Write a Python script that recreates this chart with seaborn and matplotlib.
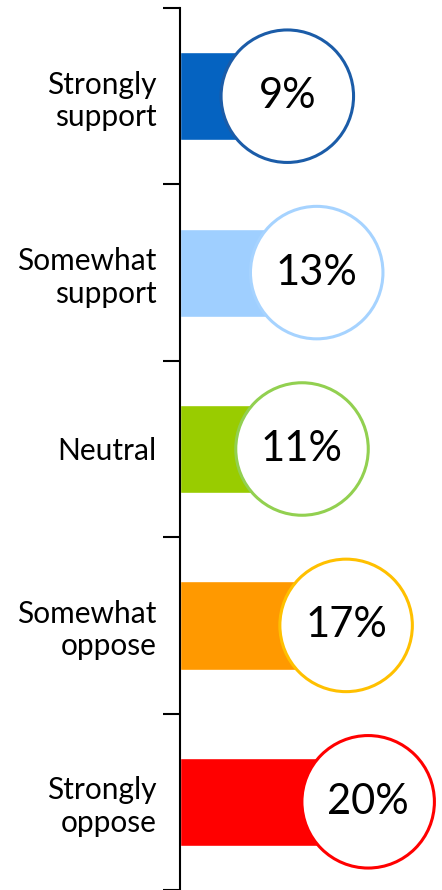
import numpy as np
import pandas as pd
import matplotlib.pyplot as plt
import seaborn as sns

categories = ["Strongly\nsupport", "Somewhat\nsupport", "Neutral", "Somewhat\noppose", "Strongly\noppose"]
values = [9, 13, 11, 17, 20]
bar_colors = ["#0563C1", "#9FCFFF", "#99CC00", "#FF9900", "#FF0000"]
ring_colors = ["#1B5CA8", "#A6D3FF", "#92D050", "#FFC000", "#FF0000"]

df = pd.DataFrame({"category": categories, "value": values})

sns.set_style("white")
plt.rcParams["font.family"] = ["Lato", "DejaVu Sans"]

fig = plt.figure(figsize=(4.42, 8.9), dpi=100)
ax = fig.add_axes([180 / 442, 0, 262 / 442, 882 / 890])

sns.barplot(
    data=df, x="value", y="category", hue="category",
    palette=bar_colors, legend=False, width=0.5, orient="h",
    saturation=1, ax=ax
)

# circles sit a bit past the end of each bar
offset = 5.6
ypos = np.arange(len(categories))
ax.scatter(
    np.array(values) + offset, ypos, s=9100, facecolor="white",
    edgecolor=ring_colors, linewidth=2.2, zorder=5, clip_on=False
)
for y, v in zip(ypos, values):
    ax.text(v + offset, y, f"{v}%", ha="center", va="center",
            fontsize=30, color="black", zorder=6)

ax.set_xlim(0, 262 / 7.35)
ax.set_ylim(len(categories) - 0.5, -0.5)
ax.set_xlabel("")
ax.set_ylabel("")
ax.set_xticks([])

for s in ["top", "right", "bottom"]:
    ax.spines[s].set_visible(False)
ax.spines["left"].set_color("black")
ax.spines["left"].set_linewidth(1.5)

ax.set_yticks(ypos)
ax.set_yticklabels(categories, fontsize=21.5, color="black", ha="right", multialignment="right")
ax.tick_params(axis="y", which="major", length=0, pad=17)
ax.set_yticks(np.arange(-0.5, len(categories), 1), minor=True)
ax.tick_params(axis="y", which="minor", length=12, width=1.5, color="black", left=True)

plt.savefig("out.png", dpi=100)
